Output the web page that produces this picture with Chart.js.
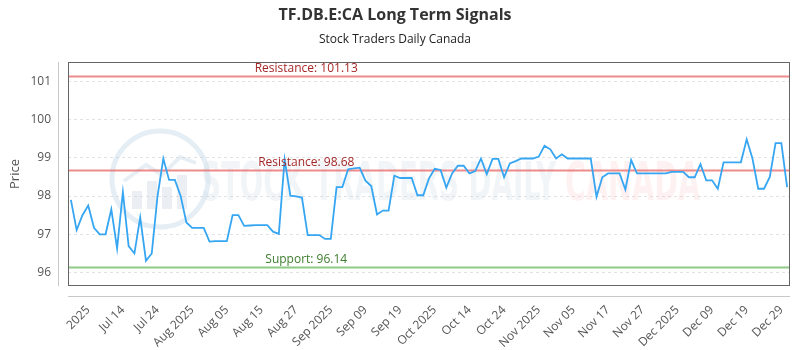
<!DOCTYPE html>
<html><head><meta charset="utf-8">
<script src="https://cdn.jsdelivr.net/npm/chart.js@4.4.1/dist/chart.umd.min.js"></script>
<style>html,body{margin:0;padding:0;background:#fff;}#wrap{width:800px;height:350px;}</style>
</head><body><div id="wrap"><canvas id="c" width="800" height="350"></canvas></div>
<script>
const chartTitle = 'TF.DB.E:CA Long Term Signals';
const chartSubtitle = 'Stock Traders Daily Canada';
const yTitle = 'Price';
const prices = [
  97.90, 97.11, 97.50, 97.75, 97.17, 97.00, 97.00, 97.65, 96.63, 98.10,
  96.69, 96.50, 97.44, 96.31, 96.50, 98.00, 98.98, 98.42, 98.42, 98.00,
  97.31, 97.17, 97.17, 97.17, 96.81, 96.82, 96.82, 96.82, 97.50, 97.50,
  97.22, 97.23, 97.24, 97.24, 97.24, 97.07, 97.01, 98.95, 98.01, 97.99,
  97.96, 96.98, 96.98, 96.98, 96.88, 96.88, 98.23, 98.23, 98.70, 98.72,
  98.74, 98.40, 98.26, 97.52, 97.62, 97.62, 98.53, 98.47, 98.47, 98.47,
  98.02, 98.02, 98.46, 98.71, 98.68, 98.22, 98.59, 98.79, 98.79, 98.59,
  98.65, 98.98, 98.57, 98.97, 98.97, 98.49, 98.85, 98.91, 98.98, 98.98,
  98.98, 99.03, 99.31, 99.22, 98.98, 99.09, 98.98, 98.98, 98.98, 98.98,
  98.98, 97.98, 98.49, 98.59, 98.59, 98.59, 98.17, 98.94, 98.59, 98.59,
  98.59, 98.59, 98.59, 98.59, 98.63, 98.63, 98.63, 98.49, 98.49, 98.83,
  98.41, 98.41, 98.19, 98.88, 98.88, 98.88, 98.88, 99.48, 98.98, 98.19,
  98.19, 98.50, 99.38, 99.38, 98.23
];
const tickLabels = ['2025','Jul 14','Jul 24','Aug 2025','Aug 05','Aug 15','Aug 27','Sep 2025','Sep 09','Sep 19',
  'Oct 2025','Oct 14','Oct 24','Nov 2025','Nov 05','Nov 17','Nov 27','Dec 2025','Dec 09','Dec 19','Dec 29'];
const tickFirst = 3;
const tickEvery = 6;
const levelValues = [101.13, 98.68, 96.14];
const levelKinds = ['Resistance', 'Resistance', 'Support'];
const yMin = 95.65;
const yMax = 101.5;

const categories = prices.map((_, i) => {
  const k = (i - tickFirst) / tickEvery;
  return (Number.isInteger(k) && k >= 0 && k < tickLabels.length) ? tickLabels[k] : '';
});

const FONT = "'Open Sans', sans-serif";

const decor = {
  id: 'decor',
  beforeDatasetsDraw(chart) {
    const {ctx, chartArea: a, scales: {y}} = chart;
    ctx.save();
    ctx.beginPath();
    ctx.rect(a.left, a.top, a.width, a.height);
    ctx.clip();
    // watermark logo
    const cx = a.left + 92, cy = a.top + 117, r = 48;
    ctx.lineWidth = 5;
    ctx.strokeStyle = 'rgba(190,212,228,0.4)';
    ctx.beginPath(); ctx.arc(cx, cy, r, 0, Math.PI * 2); ctx.stroke();
    ctx.fillStyle = 'rgba(205,215,225,0.4)';
    [[-28, 18], [-13, 28], [2, 22], [17, 34]].forEach(([dx, h]) => {
      ctx.fillRect(cx + dx, cy + 30 - h, 10, h);
    });
    ctx.lineWidth = 4;
    ctx.strokeStyle = 'rgba(195,214,228,0.4)';
    ctx.beginPath();
    ctx.moveTo(cx - 36, cy + 2); ctx.lineTo(cx - 14, cy - 14); ctx.lineTo(cx + 2, cy - 4);
    ctx.lineTo(cx + 20, cy - 22); ctx.lineTo(cx + 36, cy - 16);
    ctx.stroke();
    // watermark text
    const drawFit = (txt, x, yb, w, color) => {
      ctx.font = "bold 54px 'DejaVu Sans Condensed', sans-serif";
      const m = ctx.measureText(txt).width;
      ctx.save();
      ctx.translate(x, yb);
      ctx.scale(w / m, 1);
      ctx.fillStyle = color;
      ctx.textBaseline = 'alphabetic';
      ctx.textAlign = 'left';
      ctx.fillText(txt, 0, 0);
      ctx.restore();
    };
    drawFit('STOCK TRADERS DAILY', a.left + 133, a.top + 138, 355, 'rgba(205,218,230,0.28)');
    drawFit('CANADA', a.left + 497, a.top + 138, 135, 'rgba(248,185,185,0.2)');
    ctx.restore();
    // level lines
    ctx.save();
    levelValues.forEach((v, i) => {
      const py = Math.round(y.getPixelForValue(v)) + 0.5;
      ctx.strokeStyle = levelKinds[i] === 'Support' ? 'rgba(130,195,120,0.9)' : 'rgba(232,110,110,0.8)';
      ctx.lineWidth = 2;
      ctx.beginPath(); ctx.moveTo(a.left, py); ctx.lineTo(a.right, py); ctx.stroke();
    });
    ctx.restore();
  },
  afterDatasetsDraw(chart) {
    const {ctx, chartArea: a, scales: {y}} = chart;
    ctx.save();
    ctx.font = "12px " + FONT;
    ctx.textAlign = 'center';
    ctx.textBaseline = 'alphabetic';
    levelValues.forEach((v, i) => {
      const py = y.getPixelForValue(v);
      ctx.fillStyle = levelKinds[i] === 'Support' ? 'rgb(60,125,45)' : 'rgb(165,40,40)';
      ctx.fillText(levelKinds[i] + ': ' + v.toFixed(2), a.left + a.width * 0.33, py - 4);
    });
    // box
    ctx.strokeStyle = '#666';
    ctx.lineWidth = 1;
    ctx.strokeRect(Math.round(a.left) + 0.5, Math.round(a.top) + 0.5, Math.round(a.width) - 1, Math.round(a.height) - 1);
    // offset axis lines
    ctx.strokeStyle = '#c8c8c8';
    const lx = Math.round(a.left - 10) + 0.5;
    ctx.beginPath(); ctx.moveTo(lx, a.top); ctx.lineTo(lx, a.bottom); ctx.stroke();
    const by = Math.round(a.bottom + 10) + 0.5;
    ctx.beginPath(); ctx.moveTo(a.left, by); ctx.lineTo(a.right, by); ctx.stroke();
    ctx.restore();
  }
};

new Chart(document.getElementById('c'), {
  type: 'line',
  data: {
    labels: categories,
    datasets: [{
      data: prices,
      borderColor: '#36a6f2',
      borderWidth: 1.8,
      pointRadius: 0,
      tension: 0,
      fill: false
    }]
  },
  options: {
    responsive: false,
    animation: false,
    devicePixelRatio: 1,
    layout: {padding: {left: 0, right: 10, top: 0, bottom: 0}},
    plugins: {
      legend: {display: false},
      tooltip: {enabled: false},
      title: {display: true, text: chartTitle, color: '#333', font: {family: FONT, size: 16, weight: 'bold'}, padding: {top: 6, bottom: 4}},
      subtitle: {display: true, text: chartSubtitle, color: '#222', font: {family: FONT, size: 12}, padding: {top: 3.6, bottom: 14.8}}
    },
    scales: {
      x: {
        type: 'category',
        offset: true,
        grid: {display: false, drawTicks: false},
        border: {display: false},
        ticks: {autoSkip: false, minRotation: 45, maxRotation: 45, padding: 17, color: '#555', font: {family: FONT, size: 12}},
        afterFit(s) { s.height = 64; s.paddingLeft = 0; s.paddingRight = 0; }
      },
      y: {
        min: yMin,
        max: yMax,
        grid: {color: '#e2e2e2', drawTicks: false},
        border: {display: false, dash: [3, 3]},
        ticks: {stepSize: 1, includeBounds: false, padding: 17, color: '#555', font: {family: FONT, size: 12}},
        title: {display: true, text: yTitle, color: '#555', font: {family: FONT, size: 13}, padding: {top: 7, bottom: 0}},
        afterFit(s) { s.width = 68; }
      }
    }
  },
  plugins: [decor]
});
</script>
</body></html>
